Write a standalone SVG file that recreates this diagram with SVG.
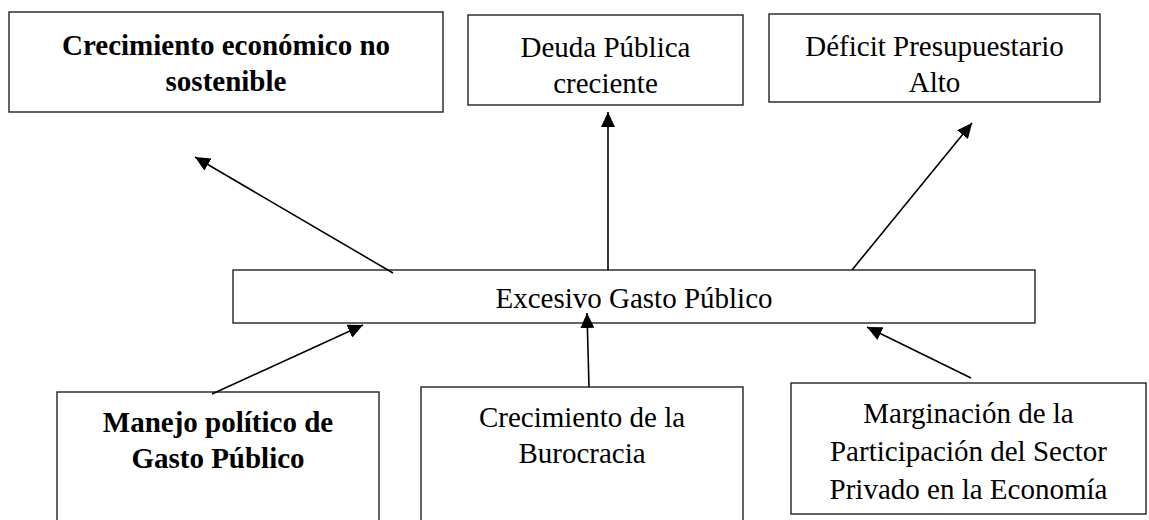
<svg xmlns="http://www.w3.org/2000/svg" width="1149" height="520" viewBox="0 0 1149 520">
<style>
.box{fill:#fff;stroke:#222;stroke-width:1.4}
.t{font-family:"Liberation Serif","Times New Roman",serif;font-size:29px;fill:#000;text-anchor:middle}
.b{font-weight:bold}
.c{stroke:#000;stroke-width:1.6;fill:none;marker-end:url(#ah)}
</style>
<defs>
<marker id="ah" markerUnits="userSpaceOnUse" markerWidth="16" markerHeight="14" refX="15" refY="7" orient="auto">
<path d="M0,0 L15,7 L0,14 Z" fill="#000"/>
</marker>
</defs>
<rect width="1149" height="520" fill="#fff"/>
<g id="n1"><rect class="box" x="9" y="12" width="434" height="100"/>
<text class="t b" x="226" y="55">Crecimiento económico no</text>
<text class="t b" x="226" y="91">sostenible</text></g>
<g id="n2"><rect class="box" x="468" y="15" width="275" height="90"/>
<text class="t" x="605.5" y="57">Deuda Pública</text>
<text class="t" x="605.5" y="93">creciente</text></g>
<g id="n3"><rect class="box" x="769" y="14" width="331" height="88"/>
<text class="t" x="934.5" y="56">Déficit Presupuestario</text>
<text class="t" x="934.5" y="92">Alto</text></g>
<g id="n4"><rect class="box" x="233" y="270" width="802" height="53"/>
<text class="t" x="634" y="308">Excesivo Gasto Público</text></g>
<g id="n5"><rect class="box" x="57" y="392" width="322" height="140"/>
<text class="t b" x="218" y="432">Manejo político de</text>
<text class="t b" x="218" y="468">Gasto Público</text></g>
<g id="n6"><rect class="box" x="421" y="387" width="322" height="145"/>
<text class="t" x="582" y="427">Crecimiento de la</text>
<text class="t" x="582" y="463">Burocracia</text></g>
<g id="n7"><rect class="box" x="791" y="383" width="355" height="131"/>
<text class="t" x="968.5" y="423">Marginación de la</text>
<text class="t" x="968.5" y="461">Participación del Sector</text>
<text class="t" x="968.5" y="499">Privado en la Economía</text></g>
<g id="connectors">
<line class="c" x1="393" y1="273" x2="195" y2="157"/>
<line class="c" x1="608" y1="270" x2="608" y2="112"/>
<line class="c" x1="852" y1="270" x2="972" y2="123"/>
<line class="c" x1="212" y1="394" x2="363" y2="325"/>
<line class="c" x1="589" y1="387" x2="587" y2="313"/>
<line class="c" x1="971" y1="378" x2="867" y2="327"/>
</g>
</svg>
